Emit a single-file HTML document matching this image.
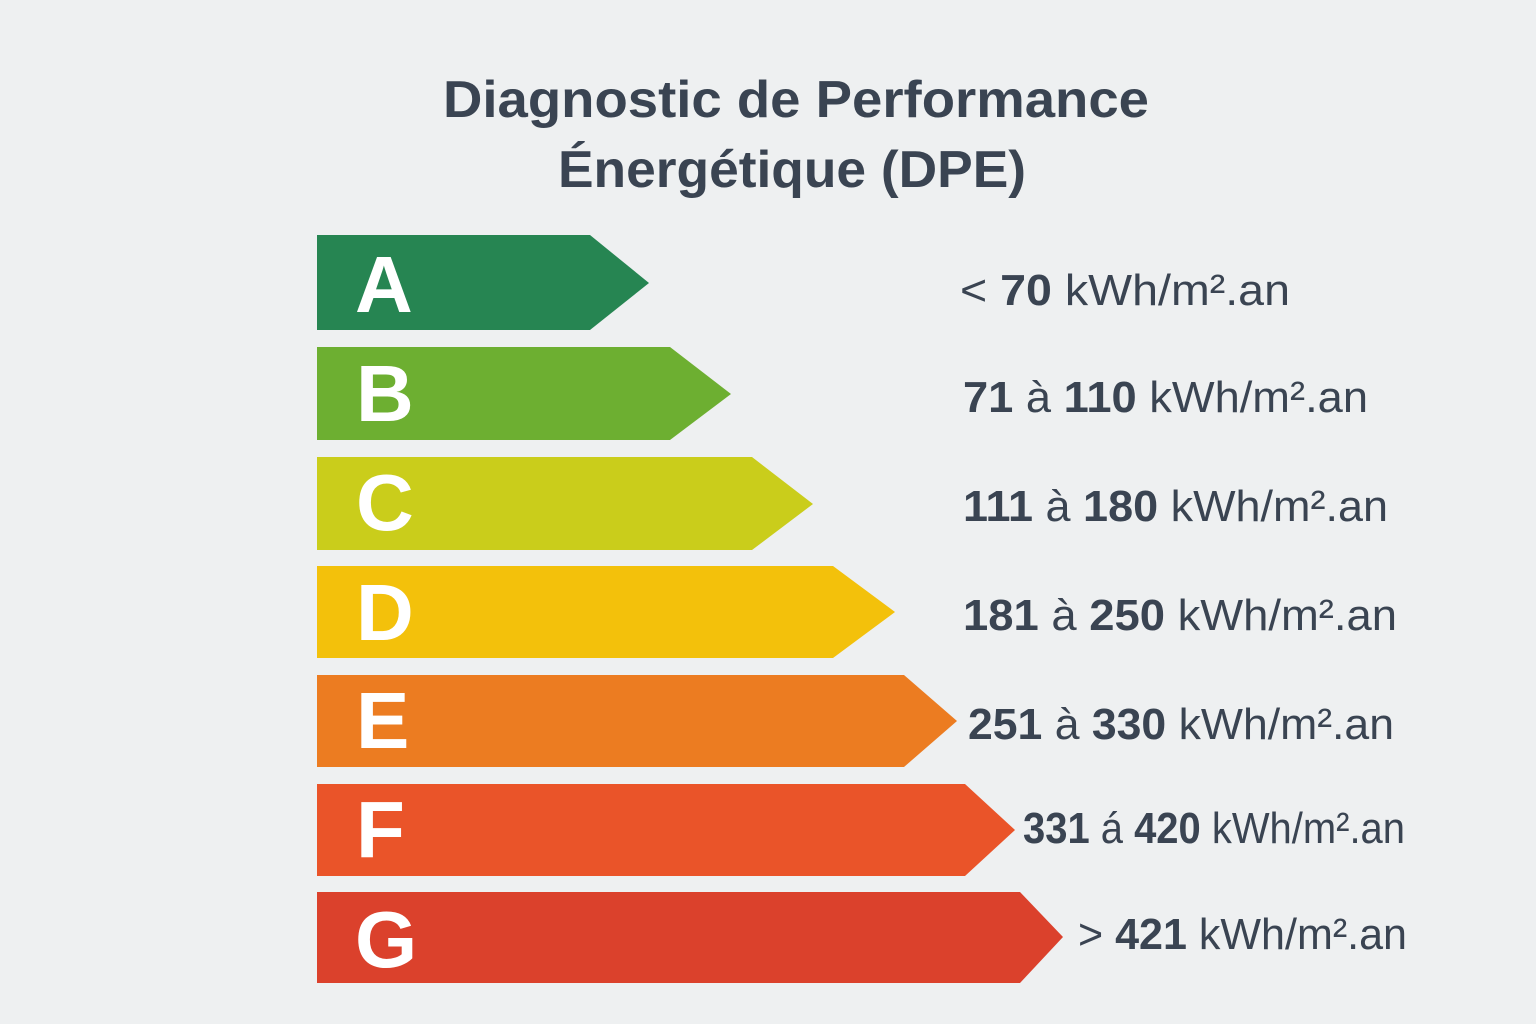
<!DOCTYPE html>
<html><head><meta charset="utf-8"><style>
html,body{margin:0;padding:0;background:#eef0f1;}
svg{display:block}
text{font-family:"Liberation Sans","DejaVu Sans",sans-serif;}
.t{fill:#3a4452;font-weight:bold;font-size:52px;}
.v{fill:#3a4452;font-size:44px;}
.b{font-weight:bold;}
.l{fill:#fff;font-weight:bold;font-size:80px;}
</style></head><body>
<svg width="1536" height="1024" viewBox="0 0 1536 1024">
<rect width="1536" height="1024" fill="#eef0f1"/>
<text class="t" x="796" y="117" text-anchor="middle" textLength="706" lengthAdjust="spacingAndGlyphs">Diagnostic de Performance</text>
<text class="t" x="792" y="187" text-anchor="middle" textLength="468" lengthAdjust="spacingAndGlyphs">Énergétique (DPE)</text>

<polygon points="317,235 590,235 649,283 590,330 317,330" fill="#268552"/>
<polygon points="317,347 670,347 731,394 670,440 317,440" fill="#6daf31"/>
<polygon points="317,457 752,457 813,504 752,550 317,550" fill="#cacd1b"/>
<polygon points="317,566 833,566 895,612 833,658 317,658" fill="#f3c10b"/>
<polygon points="317,675 904,675 957,721 904,767 317,767" fill="#ec7c21"/>
<polygon points="317,784 965,784 1015,830 965,876 317,876" fill="#ea5429"/>
<polygon points="317,892 1020,892 1063,937 1020,983 317,983" fill="#db412c"/>

<text class="l" x="355" y="312">A</text>
<text class="l" x="356" y="421">B</text>
<text class="l" x="356" y="530">C</text>
<text class="l" x="356" y="640">D</text>
<text class="l" x="356" y="748">E</text>
<text class="l" x="356" y="857">F</text>
<text class="l" x="355" y="967">G</text>

<text class="v" x="960" y="305" textLength="330" lengthAdjust="spacingAndGlyphs">&lt; <tspan class="b">70</tspan> kWh/m²<tspan>.an</tspan></text>
<text class="v" x="963" y="412" textLength="405" lengthAdjust="spacingAndGlyphs"><tspan class="b">71</tspan> à <tspan class="b">110</tspan> kWh/m².an</text>
<text class="v" x="963" y="521" textLength="425" lengthAdjust="spacingAndGlyphs"><tspan class="b">111</tspan> à <tspan class="b">180</tspan> kWh/m².an</text>
<text class="v" x="963" y="630" textLength="434" lengthAdjust="spacingAndGlyphs"><tspan class="b">181</tspan> à <tspan class="b">250</tspan> kWh/m².an</text>
<text class="v" x="968" y="739" textLength="426" lengthAdjust="spacingAndGlyphs"><tspan class="b">251</tspan> à <tspan class="b">330</tspan> kWh/m².an</text>
<text class="v" x="1023" y="843" font-size="40" textLength="382" lengthAdjust="spacingAndGlyphs"><tspan class="b">331</tspan> á <tspan class="b">420</tspan> kWh/m².an</text>
<text class="v" x="1078" y="949" textLength="329" lengthAdjust="spacingAndGlyphs">&gt; <tspan class="b">421</tspan> kWh/m².an</text>
</svg>
</body></html>
